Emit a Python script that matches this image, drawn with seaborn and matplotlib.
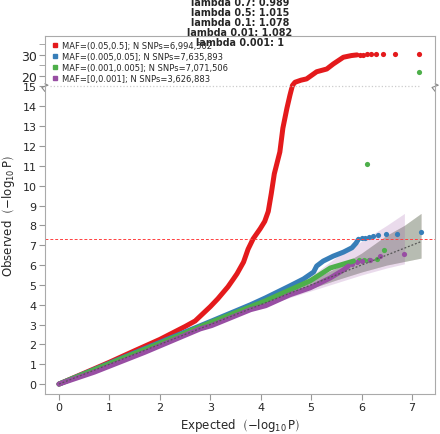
import numpy as np
import pandas as pd
import seaborn as sns
import matplotlib.pyplot as plt
from matplotlib.lines import Line2D

# ---- values ----
labels = ["MAF=(0.05,0.5]; N SNPs=6,994,502",
          "MAF=(0.005,0.05]; N SNPs=7,635,893",
          "MAF=(0.001,0.005]; N SNPs=7,071,506",
          "MAF=[0,0.001]; N SNPs=3,626,883"]
colors = ["#E41A1C", "#377EB8", "#4DAF4A", "#984EA3"]
titles = ["lambda 0.7: 0.989", "lambda 0.5: 1.015", "lambda 0.1: 1.078",
          "lambda 0.01: 1.082", "lambda 0.001: 1"]

# dense part of each QQ curve (expected, observed)
red_x = [0, 0.5, 1.0, 1.5, 2.0, 2.5, 2.7, 3.0, 3.15, 3.35, 3.46, 3.53, 3.66, 3.75, 3.85,
         3.99, 4.08, 4.15, 4.21, 4.27, 4.38, 4.44, 4.52, 4.58, 4.63, 4.68, 4.8, 4.91, 5.11,
         5.31, 5.44, 5.64, 5.8, 5.91]
red_y = [0, 0.55, 1.1, 1.68, 2.25, 2.9, 3.18, 3.9, 4.3, 4.9, 5.3, 5.56, 6.15, 6.8, 7.32,
         7.83, 8.2, 8.7, 9.6, 10.6, 11.7, 12.9, 13.9, 14.56, 15.5, 17.0, 18.0, 18.6, 22.0,
         23.3, 25.7, 28.9, 29.7, 30.0]
blue_x = [0, 1, 2, 3, 3.8, 4.1, 4.58, 4.85, 5.05, 5.11, 5.24, 5.44, 5.64, 5.81, 5.89, 5.94]
blue_y = [0, 1.05, 2.1, 3.15, 4.0, 4.35, 4.95, 5.3, 5.65, 5.95, 6.2, 6.45, 6.65, 6.87, 7.1, 7.3]
green_x = [0, 1, 2, 3, 3.8, 4.1, 4.58, 4.98, 5.38, 5.84]
green_y = [0, 1.03, 2.05, 3.1, 3.9, 4.2, 4.75, 5.2, 5.85, 6.2]
purple_x = [0, 0.7, 1.7, 2.8, 3.03, 3.8, 4.1, 4.58, 4.98, 5.38, 5.64, 5.74]
purple_y = [0, 0.6, 1.6, 2.78, 2.95, 3.75, 3.95, 4.5, 4.85, 5.35, 5.75, 5.95]

# sparse tail points
red_tail_x = [5.97, 6.03, 6.11, 6.19, 6.29, 6.43, 6.67, 7.14]
red_tail_y = [30.1, 30.1, 30.2, 30.2, 30.2, 30.2, 30.3, 30.3]
blue_tail_x = [6.0, 6.07, 6.14, 6.22, 6.33, 6.48, 6.70, 7.18]
blue_tail_y = [7.34, 7.37, 7.41, 7.46, 7.53, 7.56, 7.56, 7.66]
green_tail_x = [5.94, 6.04, 6.14, 6.30, 6.45, 6.11, 7.14]
green_tail_y = [6.26, 6.26, 6.23, 6.31, 6.77, 11.1, 21.9]
purple_tail_x = [5.81, 5.91, 6.0, 6.16, 6.37, 6.85]
purple_tail_y = [6.06, 6.15, 6.18, 6.23, 6.43, 6.57]

# confidence bands around the diagonal
band_x = [0, 2, 3, 4, 4.5, 5, 5.5, 6, 6.5, 6.85, 7.18]
narrow_lo = [0, 1.99, 2.97, 3.92, 4.38, 4.82, 5.25, 5.65, 6.0, 6.18, 6.35]
narrow_hi = [0, 2.01, 3.03, 4.1, 4.65, 5.25, 5.85, 6.6, 7.5, 8.0, 8.6]
wide_lo = [0, 1.98, 2.95, 3.88, 4.3, 4.7, 5.1, 5.5, 5.85, 6.06]
wide_hi = [0, 2.02, 3.06, 4.15, 4.75, 5.45, 6.4, 7.2, 8.0, 8.6]

sig_line = 7.3
break_at = 15
diag_max = 7.18

curves = [(red_x, red_y, red_tail_x, red_tail_y),
          (blue_x, blue_y, blue_tail_x, blue_tail_y),
          (green_x, green_y, green_tail_x, green_tail_y),
          (purple_x, purple_y, purple_tail_x, purple_tail_y)]

# ---- style ----
sns.set_style("ticks")
plt.rcParams['font.family'] = ['DejaVu Sans']
plt.rcParams['mathtext.default'] = 'regular'

K = 2.1 / 19.8  # compression of the part above the break


def fwd(y):
    y = np.asarray(y, dtype=float)
    return np.where(y <= break_at, y, break_at + (y - break_at) * K)


def inv(y):
    y = np.asarray(y, dtype=float)
    return np.where(y <= break_at, y, break_at + (y - break_at) / K)


fig = plt.figure(figsize=(4.4, 4.35), dpi=100)
ax = fig.add_axes([0.102, 0.092, 0.887, 0.823])
ax.set_yscale('function', functions=(fwd, inv))

# bands
for i, c in enumerate(colors):
    if i == 3:
        n = len(wide_lo)
        ax.fill_between(band_x[:n], wide_lo, wide_hi, color=c, alpha=0.2, lw=0)
    else:
        ax.fill_between(band_x, narrow_lo, narrow_hi, color=c, alpha=0.2, lw=0)

# curves
for (cx, cy, tx, ty), c in zip(curves, colors):
    df = pd.DataFrame({'x': cx, 'y': cy})
    sns.lineplot(data=df, x='x', y='y', sort=False, color=c, lw=3.6,
                 solid_capstyle='round', solid_joinstyle='round', ax=ax)
    tdf = pd.DataFrame({'x': tx, 'y': ty})
    sns.scatterplot(data=tdf, x='x', y='y', color=c, s=14, linewidth=0, ax=ax)

# diagonal and significance line
ax.plot([0, diag_max], [0, diag_max], ls=(0, (1.5, 1.5)), color='#555555', lw=0.9)
ax.axhline(sig_line, color='#ff4040', ls=(0, (3, 2)), lw=0.7)
ax.hlines(break_at, -0.18, 7.16, color='#cccccc', ls=':', lw=0.9)

ax.set_xlim(-0.28, 7.46)
ax.set_ylim(-0.5, 39)
ax.set_xticks(range(0, 8))
ax.set_yticks(list(range(0, 16)) + [20, 30])
ax.set_yticks([25, 35], minor=True)
ax.tick_params(axis='both', which='both', length=4, color='#999999', labelsize=8, pad=2)
for t in ax.get_yticklabels():
    if t.get_text() in ('20', '30'):
        t.set_fontsize(9)
for s in ax.spines.values():
    s.set_color('#aaaaaa')
    s.set_linewidth(0.8)

# break marks on both side spines
tr = ax.get_yaxis_transform()
zx = [0, -0.008, 0.008, 0]
zy = [14.75, 14.95, 15.6, 16.3]
ax.plot(zx, zy, transform=tr, color='#888888', lw=0.8, clip_on=False)
ax.plot([1 + v for v in zx], zy, transform=tr, color='#888888', lw=0.8, clip_on=False)

ax.set_xlabel(r'Expected  $\left(-\log_{10}\mathrm{P}\right)$', fontsize=8.5, labelpad=3)
ax.set_ylabel(r'Observed  $\left(-\log_{10}\mathrm{P}\right)$', fontsize=8.5, labelpad=3)

handles = [Line2D([], [], marker='s', ls='', color=c, markersize=3) for c in colors]
ax.legend(handles, labels, loc='upper left', frameon=False, fontsize=6,
          handletextpad=0.2, labelspacing=0.25, borderaxespad=0.2, handlelength=1.2)

fig.text(0.545, 0.890, "\n".join(titles), ha='center', va='bottom',
         fontsize=6.9, fontweight='bold', linespacing=0.98)

fig.savefig('out.png', dpi=100)
